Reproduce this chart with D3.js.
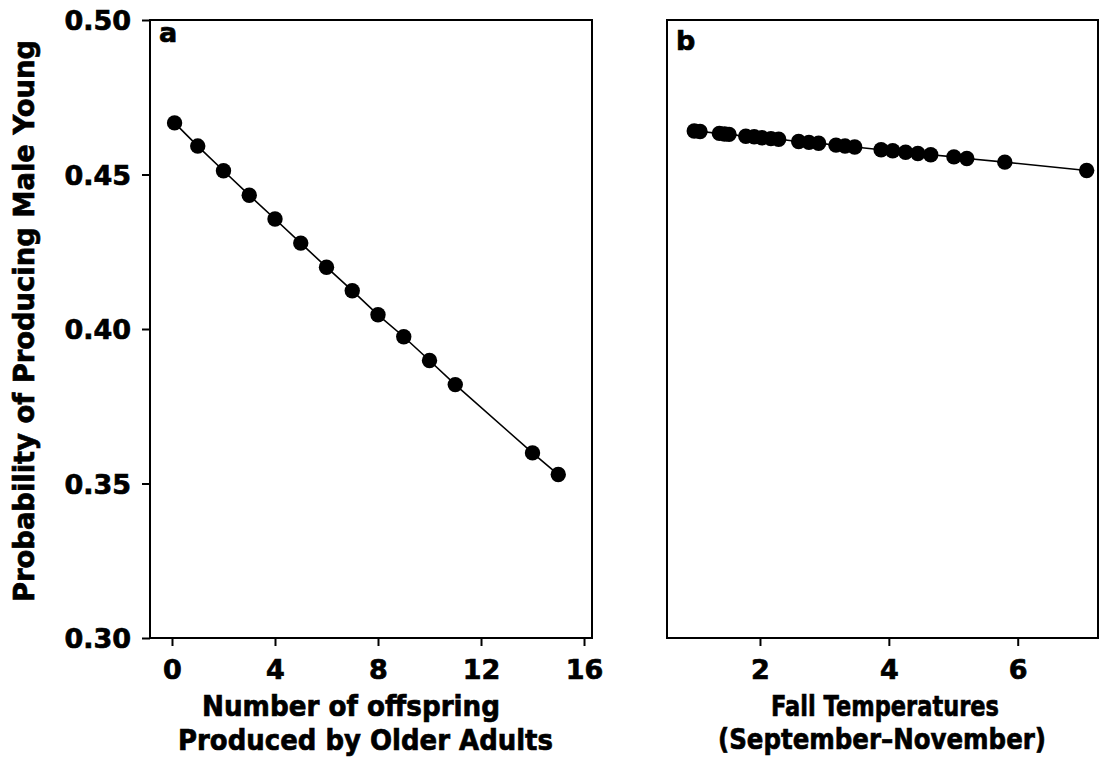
<!DOCTYPE html>
<html>
<head>
<meta charset="utf-8">
<script src="https://cdn.jsdelivr.net/npm/d3@7"></script>
<style>
  html, body { margin: 0; padding: 0; background: #fff; }
  svg { display: block; }
  text { font-family: "DejaVu Sans", Verdana, sans-serif; font-weight: bold; fill: #000;
         stroke: #000; stroke-width: 0.7px; paint-order: stroke; }
</style>
</head>
<body>
<svg id="chart" width="1099" height="763"></svg>
<script>
// Panel a: offspring produced by older adults vs. probability of male young
const offspringX = [0.1, 1, 2, 3, 4, 5, 6, 7, 8, 9, 10, 11, 14, 15];
const offspringP = [0.4667, 0.4592, 0.4512, 0.4433, 0.4356, 0.4278, 0.4200, 0.4124,
                    0.4046, 0.3975, 0.3898, 0.3820, 0.3599, 0.3529];

// Panel b: fall temperatures (September–November) vs. probability of male young
const tempX = [0.98, 1.07, 1.37, 1.45, 1.52, 1.78, 1.91, 2.03, 2.17, 2.29,
               2.60, 2.76, 2.91, 3.18, 3.32, 3.47, 3.88, 4.06, 4.26, 4.45,
               4.65, 5.01, 5.21, 5.80, 7.07];
const tempP = [0.4641, 0.4639, 0.4633, 0.4631, 0.4630, 0.4624, 0.4622, 0.4619, 0.4616, 0.4614,
               0.4607, 0.4604, 0.4601, 0.4595, 0.4592, 0.4589, 0.4580, 0.4577, 0.4572, 0.4568,
               0.4564, 0.4557, 0.4552, 0.4540, 0.4513];

// Tick values
const yTicks = [0.30, 0.35, 0.40, 0.45, 0.50];
const aTicks = [0, 4, 8, 12, 16];
const bTicks = [2, 4, 6];

// Text
const yTitle = "Probability of Producing Male Young";
const aTitle = ["Number of offspring", "Produced by Older Adults"];
const bTitle = ["Fall Temperatures", "(September\u2013November)"];
const panelLabels = ["a", "b"];

const svg = d3.select("#chart");

const plotTop = 20, plotBottom = 638;
const y = d3.scaleLinear().domain([0.30, 0.50]).range([plotBottom, plotTop]);

const xa = d3.scaleLinear().domain([-0.854, 16.31]).range([150, 592]);
const xb = d3.scaleLinear().domain([0.557, 7.246]).range([667, 1098]);

function panel(x, xs, ys, ticks, label, labelDy, showY) {
  const g = svg.append("g");
  const [x0, x1] = x.range();

  // frame
  g.append("rect")
    .attr("x", x0).attr("y", plotTop)
    .attr("width", x1 - x0).attr("height", plotBottom - plotTop)
    .attr("fill", "none").attr("stroke", "#000").attr("stroke-width", 2);

  // x axis
  const ax = g.append("g")
    .attr("transform", `translate(0,${plotBottom})`)
    .call(d3.axisBottom(x).tickValues(ticks).tickSize(8).tickPadding(14).tickFormat(d3.format("d")));
  ax.select(".domain").remove();
  ax.selectAll(".tick line").attr("stroke", "#000").attr("stroke-width", 2);
  ax.selectAll(".tick text").style("font-size", "27px").attr("fill", "#000");

  if (showY) {
    const ay = g.append("g")
      .attr("transform", `translate(${x0},0)`)
      .call(d3.axisLeft(y).tickValues(yTicks).tickSize(8).tickPadding(11).tickFormat(d3.format(".2f")));
    ay.select(".domain").remove();
    ay.selectAll(".tick line").attr("stroke", "#000").attr("stroke-width", 2);
    ay.selectAll(".tick text").style("font-size", "27px").attr("fill", "#000")
      .attr("dy", "0.36em");
  }

  // connecting line
  const pts = xs.map((v, i) => [v, ys[i]]);
  g.append("path")
    .datum(pts)
    .attr("fill", "none").attr("stroke", "#000").attr("stroke-width", 1.6)
    .attr("d", d3.line().x(d => x(d[0])).y(d => y(d[1])));

  // points
  g.selectAll("circle")
    .data(pts)
    .join("circle")
    .attr("cx", d => x(d[0])).attr("cy", d => y(d[1]))
    .attr("r", 7.7).attr("fill", "#000");

  // panel letter
  g.append("text")
    .attr("x", x0 + 9).attr("y", plotTop + labelDy)
    .style("font-size", "27px")
    .text(label);
  return g;
}

panel(xa, offspringX, offspringP, aTicks, panelLabels[0], 22, true);
panel(xb, tempX, tempP, bTicks, panelLabels[1], 30, false);

// axis titles
function title(txt, cx, baseline, len) {
  svg.append("text")
    .attr("x", cx).attr("y", baseline)
    .attr("text-anchor", "middle")
    .attr("textLength", len).attr("lengthAdjust", "spacingAndGlyphs")
    .style("font-size", "29px")
    .text(txt);
}
title(aTitle[0], 351, 716, 298);
title(aTitle[1], 365.5, 750, 375);
title(bTitle[0], 885, 716, 228);
title(bTitle[1], 882, 749, 328);

svg.append("text")
  .attr("transform", "translate(34,321) rotate(-90)")
  .attr("text-anchor", "middle")
  .attr("textLength", 562).attr("lengthAdjust", "spacingAndGlyphs")
  .style("font-size", "29px")
  .text(yTitle);
</script>
</body>
</html>
